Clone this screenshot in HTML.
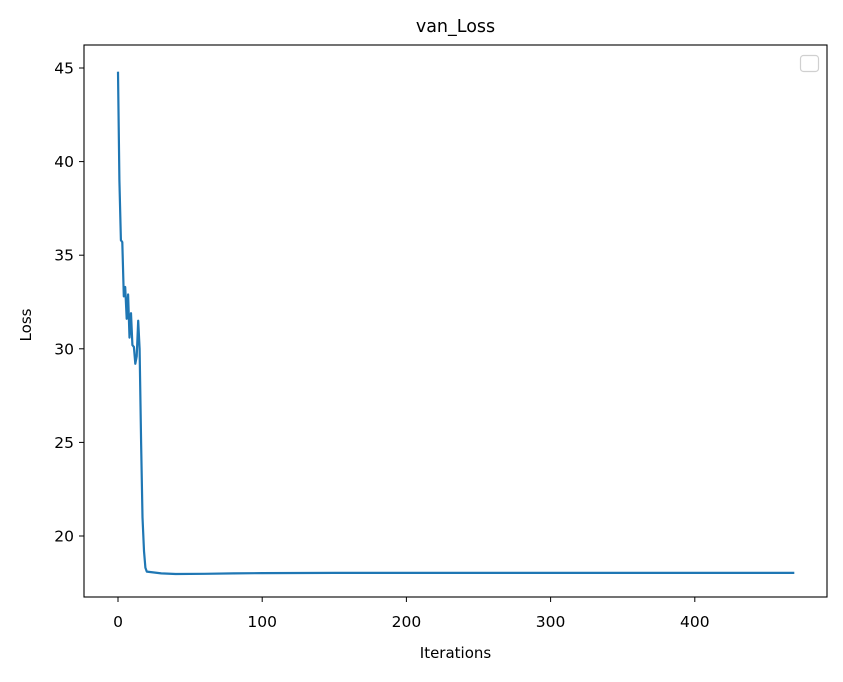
<!DOCTYPE html>
<html><head><meta charset="utf-8"><style>
body{margin:0;background:#fff;}
svg text{font-family:"DejaVu Sans","Liberation Sans",sans-serif;fill:#000;}
</style></head><body>
<svg id="chart" width="843" height="677" xmlns="http://www.w3.org/2000/svg">
<rect width="843" height="677" fill="#fff"/>
<g id="ticks"></g>
<path id="line" fill="none" stroke="#1f77b4" stroke-width="2.2" stroke-linejoin="round"/>
<rect x="84" y="45" width="743" height="552" fill="none" stroke="#000" stroke-width="1.1"/>
<rect x="800.5" y="55.5" width="18" height="16" rx="3" fill="#fff" stroke="#d0d0d0" stroke-width="1.2"/>
<text x="455.5" y="32" font-size="17.5" text-anchor="middle">van_Loss</text>
<text x="455.5" y="658" font-size="15" text-anchor="middle">Iterations</text>
<text transform="translate(31,325) rotate(-90)" font-size="15" text-anchor="middle">Loss</text>
</svg>
<script>
const iters=[0,1,2,3,4,5,6,7,8,9,10,11,12,13,14,15,16,17,18,19,20,25,30,40,60,80,100,150,200,300,469];
const losses=[44.8,39,35.8,35.7,32.8,33.3,31.6,32.9,30.6,31.9,30.2,30.1,29.2,29.6,31.5,30.0,25,21,19.2,18.3,18.1,18.05,18.0,17.97,17.98,18.0,18.02,18.03,18.03,18.03,18.03];
const xTicks=[0,100,200,300,400];
const yTicks=[20,25,30,35,40,45];
function xs(v){return 118+v*1.442;}
function ys(v){return 536-(v-20)*18.72;}
const g=document.getElementById('ticks');
const NS='http://www.w3.org/2000/svg';
xTicks.forEach(t=>{
 const l=document.createElementNS(NS,'line');
 
 
 l.setAttribute('x1',xs(t));l.setAttribute('x2',xs(t));l.setAttribute('y1',597);l.setAttribute('y2',602);l.setAttribute('stroke','#000');
 g.appendChild(l);
 const tx=document.createElementNS(NS,'text');
 
 
 tx.setAttribute('x',xs(t));tx.setAttribute('y',627);tx.setAttribute('font-size','15.5');tx.setAttribute('text-anchor','middle');
 tx.textContent=t;g.appendChild(tx);
});
yTicks.forEach(t=>{
 const l=document.createElementNS(NS,'line');
 
 
 l.setAttribute('x1',79);l.setAttribute('x2',84);l.setAttribute('y1',ys(t));l.setAttribute('y2',ys(t));l.setAttribute('stroke','#000');
 g.appendChild(l);
 const tx=document.createElementNS(NS,'text');
 
 
 tx.setAttribute('x',74);tx.setAttribute('y',ys(t)+5.5);tx.setAttribute('font-size','15.5');tx.setAttribute('text-anchor','end');
 tx.textContent=t;g.appendChild(tx);
});
document.getElementById('line').setAttribute('d',iters.map((v,i)=>(i?'L':'M')+xs(v).toFixed(1)+','+ys(losses[i]).toFixed(1)).join(''));
</script>
</body></html>
